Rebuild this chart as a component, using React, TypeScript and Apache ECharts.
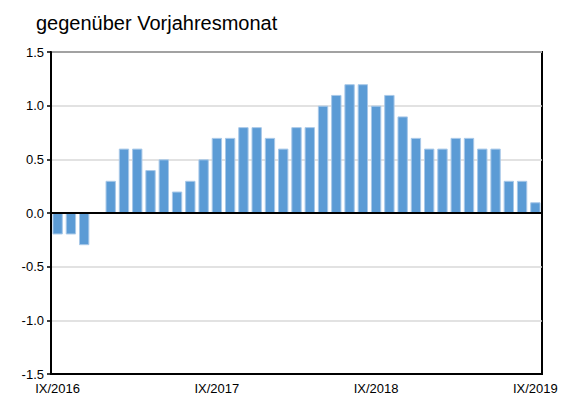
import React, { useEffect, useRef } from "react";
import * as echarts from "echarts";

const titleText = "gegenüber Vorjahresmonat";

const categories = [
  "IX/2016", "X/2016", "XI/2016", "XII/2016",
  "I/2017", "II/2017", "III/2017", "IV/2017", "V/2017", "VI/2017", "VII/2017", "VIII/2017", "IX/2017", "X/2017", "XI/2017", "XII/2017",
  "I/2018", "II/2018", "III/2018", "IV/2018", "V/2018", "VI/2018", "VII/2018", "VIII/2018", "IX/2018", "X/2018", "XI/2018", "XII/2018",
  "I/2019", "II/2019", "III/2019", "IV/2019", "V/2019", "VI/2019", "VII/2019", "VIII/2019", "IX/2019",
];

const values = [
  -0.2, -0.2, -0.3, 0.0,
  0.3, 0.6, 0.6, 0.4, 0.5, 0.2, 0.3, 0.5, 0.7, 0.7, 0.8, 0.8,
  0.7, 0.6, 0.8, 0.8, 1.0, 1.1, 1.2, 1.2, 1.0, 1.1, 0.9, 0.7,
  0.6, 0.6, 0.7, 0.7, 0.6, 0.6, 0.3, 0.3, 0.1,
];

const yMin = -1.5;
const yMax = 1.5;
const yInterval = 0.5;

export default function App() {
  const ref = useRef<HTMLDivElement>(null);
  useEffect(() => {
    if (!ref.current) return;
    const chart = echarts.init(ref.current, undefined, { renderer: "svg" });
    const font = "'Liberation Sans', Arial, sans-serif";
    chart.setOption({
      animation: false,
      backgroundColor: "#fff",
      textStyle: { fontFamily: font },
      title: {
        text: titleText,
        left: 23,
        top: 0,
        textStyle: { fontFamily: font, fontSize: 20, fontWeight: "normal", color: "#000" },
      },
      grid: {
        left: 43,
        right: 21,
        top: 44,
        bottom: 18,
        show: true,
        borderColor: "#000",
        borderWidth: 2,
        backgroundColor: "transparent",
      },
      xAxis: {
        type: "category",
        data: categories,
        axisLine: { onZero: false, lineStyle: { color: "#000", width: 2 } },
        axisTick: { show: false },
        axisLabel: {
          interval: (i: number) => i % 12 === 0,
          color: "#000",
          fontSize: 13,
          fontFamily: font,
          margin: 8,
        },
        splitLine: { show: false },
      },
      yAxis: {
        type: "value",
        min: yMin,
        max: yMax,
        interval: yInterval,
        axisLine: { show: true, lineStyle: { color: "#000", width: 2 } },
        axisTick: { show: true, length: 4, lineStyle: { color: "#000", width: 1.5 } },
        axisLabel: {
          color: "#000",
          fontSize: 13,
          fontFamily: font,
          margin: 7,
          formatter: (v: number) => v.toFixed(1),
        },
        splitLine: { show: true, lineStyle: { color: "#D9D9D9", width: 1.5 } },
      },
      series: [
        {
          type: "bar",
          data: values,
          barCategoryGap: "22%",
          itemStyle: { color: "#5B9BD5", borderColor: "#A8C8E8", borderWidth: 1 },
          markLine: {
            silent: true,
            symbol: "none",
            label: { show: false },
            lineStyle: { color: "#000", width: 2, type: "solid" },
            data: [{ yAxis: 0 }],
          },
        },
      ],
    });
    return () => chart.dispose();
  }, []);
  return <div ref={ref} style={{ width: 555, height: 387 }} />;
}
